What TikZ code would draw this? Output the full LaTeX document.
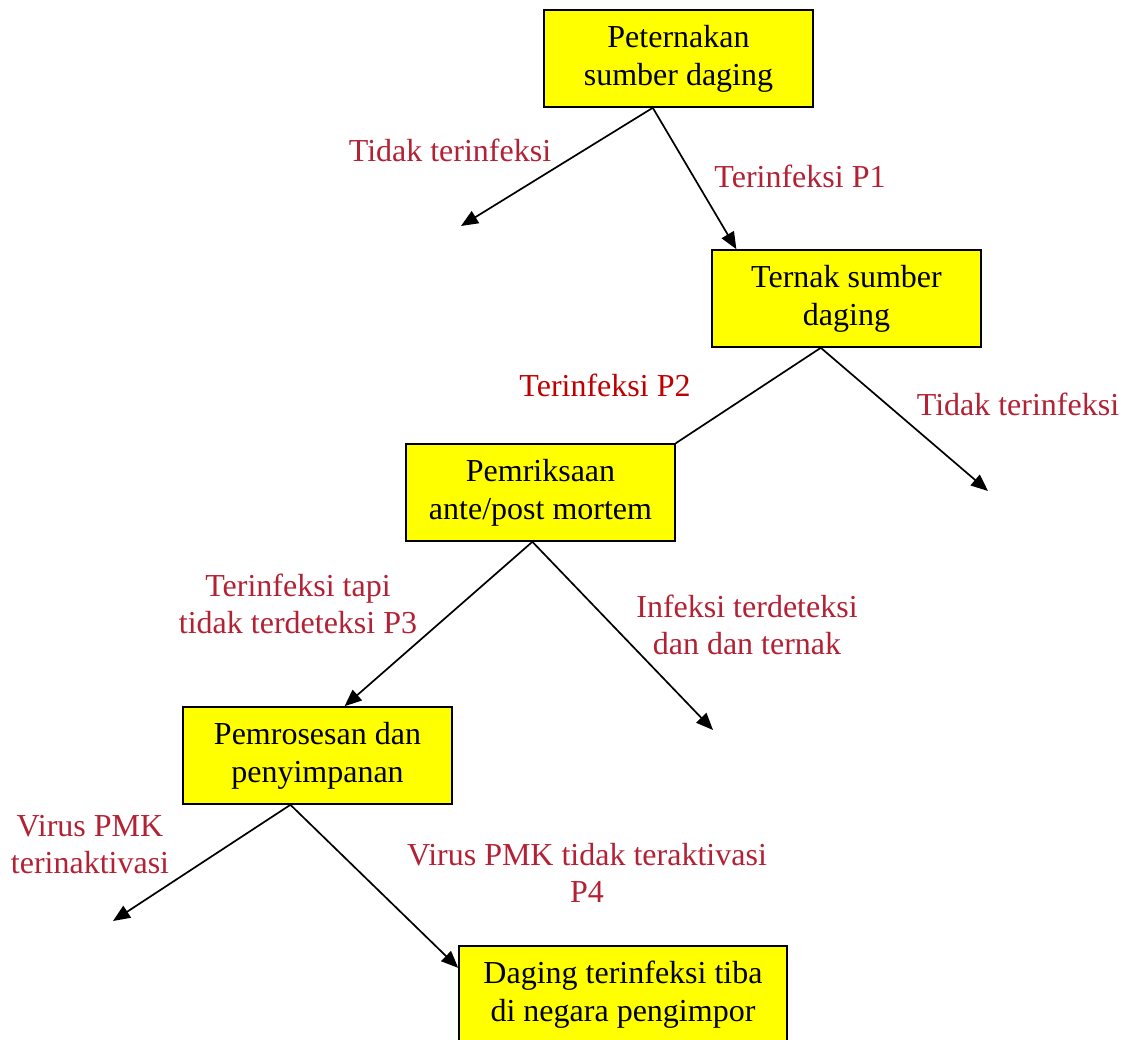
\documentclass[tikz,border=0pt]{standalone}
\usepackage{fontspec}
\setmainfont{Liberation Serif}
\usetikzlibrary{arrows.meta,calc}
\definecolor{labred}{RGB}{178,34,52}
\definecolor{labredb}{RGB}{192,0,0}
\definecolor{boxyellow}{RGB}{255,255,0}
\tikzset{
  stagebox/.style={draw=black, line width=1.6pt, fill=boxyellow, align=center,
    minimum width=269pt, minimum height=97pt, inner sep=2pt,
    font=\fontsize{32}{38}\selectfont},
  branchlabel/.style={text=labred, align=center, inner sep=0pt,
    font=\fontsize{32}{37}\selectfont},
  link/.style={draw=black, line width=1.7pt},
  arrowlink/.style={link, -{Triangle[length=17pt,width=14pt]}}
}
\begin{document}
\begin{tikzpicture}[x=1pt,y=-1pt]
  \clip (0,0) rectangle (1127,1039);
  \fill[white] (0,0) rectangle (1127,1039);

  % stages of the pathway
  \node[stagebox] (n1) at (678.5,58.5) {Peternakan\\sumber daging};
  \node[stagebox] (n2) at (846.5,298.5) {Ternak sumber\\daging};
  \node[stagebox] (n3) at (540.5,492.5) {Pemriksaan\\ante/post mortem};
  \node[stagebox] (n4) at (317.5,755.5) {Pemrosesan dan\\penyimpanan};
  \node[stagebox, minimum width=328pt] (n5) at (623,994.5) {Daging terinfeksi tiba\\di negara pengimpor};

  % open ends of the dead branches
  \coordinate (e1) at (461,226);
  \coordinate (e4) at (988,491);
  \coordinate (e6) at (713,730);
  \coordinate (e7) at (113,921);

  % branch points on the lower edges
  \coordinate (b1) at ($(n1.south west)!0.405!(n1.south east)$);
  \coordinate (b2) at ($(n2.south west)!0.405!(n2.south east)$);
  \coordinate (b3) at ($(n3.south west)!0.47!(n3.south east)$);
  \coordinate (b4) at ($(n4.south west)!0.40!(n4.south east)$);

  \draw[arrowlink] (b1) -- (e1);
  \draw[arrowlink] (b1) -- ($(n2.north west)!0.093!(n2.north east)$);
  \draw[link] (b2) -- (n3.north east);
  \draw[arrowlink] (b2) -- (e4);
  \draw[arrowlink] (b3) -- ($(n4.north west)!0.60!(n4.north east)$);
  \draw[arrowlink] (b3) -- (e6);
  \draw[arrowlink] (b4) -- (e7);
  \draw[arrowlink] (b4) -- ($(n5.north west)!0.23!(n5.south west)$);

  % branch labels
  \node[branchlabel] (l1) at (450,150) {Tidak terinfeksi};
  \node[branchlabel] (l2) at (800,176) {Terinfeksi P1};
  \node[branchlabel, text=labredb] (l3) at (605,385) {Terinfeksi P2};
  \node[branchlabel] (l4) at (1018,404) {Tidak terinfeksi};
  \node[branchlabel] (l5) at (298,604) {Terinfeksi tapi\\tidak terdeteksi P3};
  \node[branchlabel] (l6) at (747,625) {Infeksi terdeteksi\\dan dan ternak};
  \node[branchlabel] (l7) at (90,845) {Virus PMK\\terinaktivasi};
  \node[branchlabel] (l8) at (587,873) {Virus PMK tidak teraktivasi\\P4};
\end{tikzpicture}
\end{document}
